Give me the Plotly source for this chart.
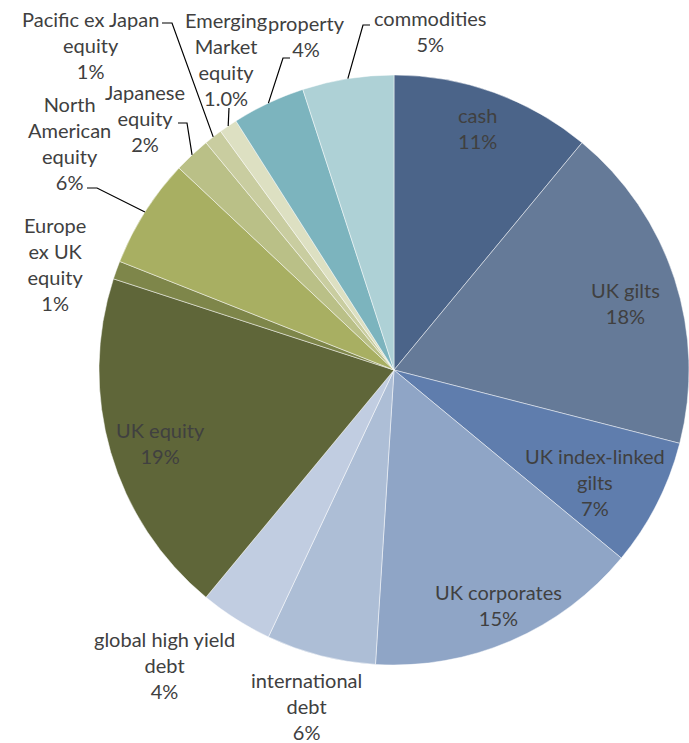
import math
import plotly.graph_objects as go

# ---- data ----
categories = ["cash", "UK gilts", "UK index-linked gilts", "UK corporates",
              "international debt", "global high yield debt", "UK equity",
              "Europe ex UK equity", "North American equity", "Japanese equity",
              "Pacific ex Japan equity", "Emerging Market equity", "property",
              "commodities"]
values = [11, 18, 7, 15, 6, 4, 19, 1, 6, 2, 1, 1, 4, 5]
value_labels = ["11%", "18%", "7%", "15%", "6%", "4%", "19%", "1%", "6%", "2%",
                "1%", "1.0%", "4%", "5%"]
label_lines = [["cash"], ["UK gilts"], ["UK index-linked", "gilts"], ["UK corporates"],
               ["international", "debt"], ["global high yield", "debt"], ["UK equity"],
               ["Europe", "ex UK", "equity"], ["North", "American", "equity"],
               ["Japanese", "equity"], ["Pacific ex Japan", "equity"],
               ["Emerging", "Market", "equity"], ["property"], ["commodities"]]
colors = ["#4B6489", "#657A98", "#5F7DAD", "#8FA5C6", "#ADBED6", "#C1CDE1",
          "#5F6639", "#7E864A", "#A8AF62", "#BAC087", "#C9CDA0", "#DDE0C2",
          "#7CB4BE", "#AED1D6"]

# ---- layout (pixels) ----
W, H = 689, 743
CX, CY, R = 394, 370, 295

def px(x):
    return x / W

def py(y):
    return 1 - y / H

fig = go.Figure(go.Pie(
    labels=categories, values=values, sort=False, direction="clockwise",
    rotation=0, marker=dict(colors=colors, line=dict(color="rgba(255,255,255,0.6)", width=0.8)),
    textinfo="none", hoverinfo="none", showlegend=False,
    domain=dict(x=[(CX - R) / W, (CX + R) / W if (CX + R) <= W else 1.0],
                y=[py(CY + R), py(CY - R)]),
))

# label block centres (pixels): x, y of first line, y of last line
label_pos = {
    "cash": (477, 115, 140),
    "UK gilts": (625, 290, 316),
    "UK index-linked gilts": (595, 457, 508),
    "UK corporates": (498, 592, 618),
    "international debt": (306, 680, 732),
    "global high yield debt": (164, 640, 690),
    "UK equity": (160, 430, 456),
    "Europe ex UK equity": (55, 225, 303),
    "North American equity": (69, 103, 183),
    "Japanese equity": (145, 93, 143),
    "Pacific ex Japan equity": (90, 20, 71),
    "Emerging Market equity": (226, 20, 97),
    "property": (306, 24, 49),
    "commodities": (430, 18, 44),
}

font = dict(family="Lato, 'Open Sans', sans-serif", size=20, color="#404040")
annotations = []
for cat, lines, vl in zip(categories, label_lines, value_labels):
    x, y0, y1 = label_pos[cat]
    annotations.append(dict(
        x=px(x), y=py((y0 + y1) / 2), xref="paper", yref="paper",
        text="<br>".join(lines + [vl]), showarrow=False,
        xanchor="center", yanchor="middle", align="center", font=font))

# leader lines: elbow points (pixels) -> edge of the slice computed from data
leaders = {
    "Pacific ex Japan equity": [(162, 23), (172, 23)],
    "Emerging Market equity": [(229, 108)],
    "property": [(290, 58), (283, 58)],
    "commodities": [(370, 25), (363, 25)],
    "Japanese equity": [(178, 123), (187, 123)],
    "North American equity": [(87, 188), (97, 188)],
}
total = sum(values)
cum = 0
shapes = []
for cat, v in zip(categories, values):
    mid = (cum + v / 2) / total * 2 * math.pi
    cum += v
    if cat not in leaders:
        continue
    ex = CX + R * math.sin(mid)
    ey = CY - R * math.cos(mid)
    pts = leaders[cat] + [(ex, ey)]
    path = "M " + " L ".join(f"{px(a):.5f},{py(b):.5f}" for a, b in pts)
    shapes.append(dict(type="path", path=path, xref="paper", yref="paper",
                       line=dict(color="#000000", width=1.2)))

fig.update_layout(
    width=W, height=H, margin=dict(l=0, r=0, t=0, b=0),
    paper_bgcolor="white", plot_bgcolor="white",
    annotations=annotations, shapes=shapes,
)

fig.write_html("out.html")
